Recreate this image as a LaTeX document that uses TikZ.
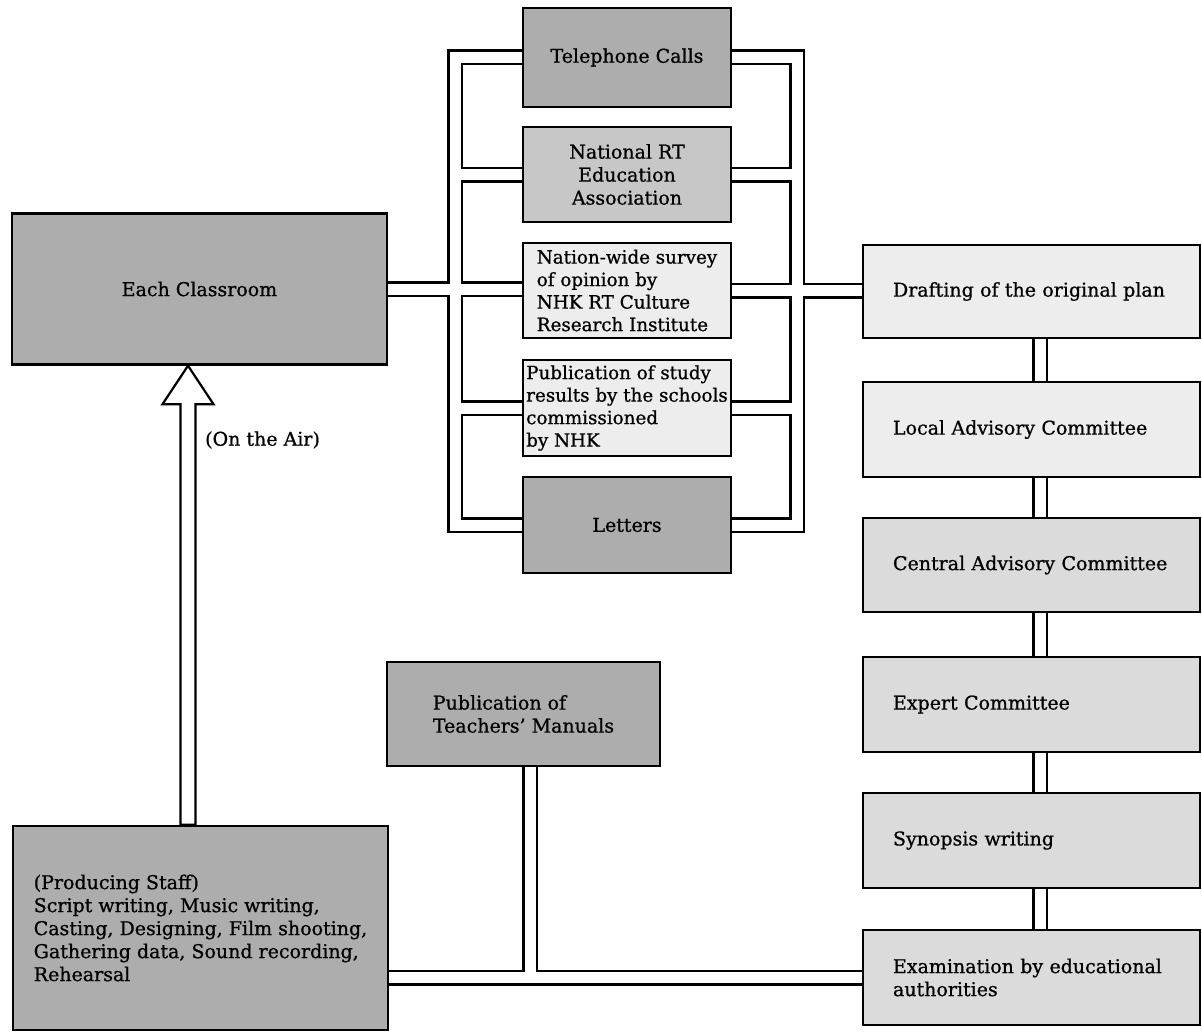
\documentclass[tikz,border=0pt]{standalone}
\usepackage{fontspec}
\setmainfont{DejaVu Serif}
\newfontfamily\diagff{DejaVu Serif}[Ligatures=TeX, FakeBold=0.8]
\usetikzlibrary{calc,backgrounds}
\newcommand\diagfont{\diagff\fontsize{19}{23}\selectfont}
\newcommand\smalldiagfont{\diagff\fontsize{18.3}{22.5}\selectfont}
\definecolor{fillA}{gray}{0.68}
\definecolor{fillB}{gray}{0.78}
\definecolor{fillC}{gray}{0.86}
\definecolor{fillD}{gray}{0.93}
\tikzset{
  box/.style={draw=black, line width=2.4pt, inner sep=3pt, align=center, font=\diagfont},
  midbox/.style={box, minimum width=208pt},
  rbox/.style={box, text width=277pt, inner xsep=30pt, align=left, minimum height=95pt},
  pipeout/.style={draw=black, line width=16pt, line join=miter, line cap=butt},
  pipein/.style={draw=white, line width=11pt, line join=miter, line cap=butt},
  hollowarrow/.style={draw=black, line width=2.2pt, fill=white, line join=miter},
  lbl/.style={font=\diagfont, inner sep=0pt}
}
\newcommand\pipenet[1]{%
  \draw[#1] (tel.west) -| (lvx) |- (let.west);
  \draw[#1] (tel.east) -| (rvx) |- (let.east);
  \draw[#1] (nat.west) -- (nat.west -| lvx);
  \draw[#1] (nat.east) -- (nat.east -| rvx);
  \draw[#1] (stu.west) -- (stu.west -| lvx);
  \draw[#1] (stu.east) -- (stu.east -| rvx);
  \draw[#1] (cls.east) -- (cls.east -| sur.west);
  \draw[#1] (sur.east) -- (sur.east -| dra.west);
  \draw[#1] (dra.south -| rcx) -- (loc.north -| rcx);
  \draw[#1] (loc.south -| rcx) -- (cen.north -| rcx);
  \draw[#1] (cen.south -| rcx) -- (exp.north -| rcx);
  \draw[#1] (exp.south -| rcx) -- (syn.north -| rcx);
  \draw[#1] (syn.south -| rcx) -- (exa.north -| rcx);
  \draw[#1] (prd.east |- exa.west) -- (exa.west);
  \draw[#1] (man.south -| mx) -- (mx |- exa.west);
}
\begin{document}
\begin{tikzpicture}[x=1pt, y=-1pt]
\useasboundingbox (0,0) rectangle (1202,1033);
% coordinates of the pipe columns
\coordinate (lvx) at (455,525);
\coordinate (rvx) at (797,525);
\coordinate (rcx) at (1040,0);
\coordinate (mx) at (530,0);
\coordinate (ax) at (188,0);
% left
\node[box, fill=fillA, minimum width=375pt, minimum height=151pt] (cls) at (199.5,289) {Each Classroom};
% middle column
\node[midbox, fill=fillA, minimum height=99pt] (tel) at (627,57.5) {Telephone Calls};
\node[midbox, fill=fillB, minimum height=95pt] (nat) at (627,174.5) {National RT\\Education\\Association};
\node[midbox, fill=fillD, minimum height=95pt, align=left, font=\smalldiagfont] (sur) at (627,290.5) {Nation-wide survey\\of opinion by\\NHK RT Culture\\Research Institute};
\node[midbox, fill=fillD, minimum height=96pt, align=left, font=\smalldiagfont] (stu) at (627,408) {Publication of study\\results by the schools\\commissioned\\by NHK};
\node[midbox, fill=fillA, minimum height=96pt] (let) at (627,525) {Letters};
% right column
\node[rbox, fill=fillD, minimum height=93pt] (dra) at (1031.5,291.5) {\mbox{Drafting of the original plan}};
\node[rbox, fill=fillD] (loc) at (1031.5,429.5) {\mbox{Local Advisory Committee}};
\node[rbox, fill=fillC, minimum height=94pt] (cen) at (1031.5,565) {\mbox{Central Advisory Committee}};
\node[rbox, fill=fillC] (exp) at (1031.5,704.5) {\mbox{Expert Committee}};
\node[rbox, fill=fillC] (syn) at (1031.5,840.5) {\mbox{Synopsis writing}};
\node[rbox, fill=fillC] (exa) at (1031.5,977.5) {\mbox{Examination by educational}\\\mbox{authorities}};
% bottom
\node[box, fill=fillA, minimum width=273pt, minimum height=104pt, align=left] (man) at (523.5,714) {Publication of\\Teachers’ Manuals};
\node[box, fill=fillA, minimum width=375pt, minimum height=204pt, align=left] (prd) at (200.5,928) {(Producing Staff)\\Script writing, Music writing,\\Casting, Designing, Film shooting,\\Gathering data, Sound recording,\\Rehearsal};
\node[lbl, anchor=west] (air) at (205,440) {(On the Air)};
% connectors
\begin{pgfonlayer}{background}
  \pipenet{pipeout}
  \pipenet{pipein}
  \draw[hollowarrow] (cls.south -| ax) -- ++(25.5,38.5) -- ++(-18,0)
     -- ($(prd.north -| ax)+(7.5,0)$) -- ($(prd.north -| ax)+(-7.5,0)$)
     |- ($(cls.south -| ax)+(-25.5,38.5)$) -- cycle;
\end{pgfonlayer}
\end{tikzpicture}
\end{document}
